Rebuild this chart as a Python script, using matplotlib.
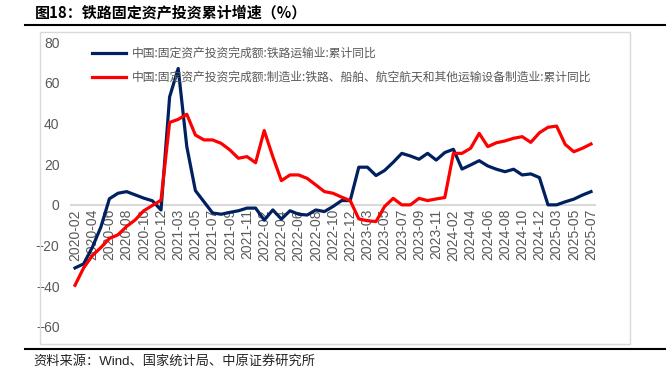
import numpy as np
import matplotlib
matplotlib.use('Agg')
import matplotlib.pyplot as plt
from matplotlib.lines import Line2D
from matplotlib.patches import Rectangle

plt.rcParams['font.family'] = ['Liberation Sans', 'Noto Sans CJK SC', 'DejaVu Sans']

# months (January is not published, so each year starts at -02)
months = []
for year in range(2020, 2026):
    last = 7 if year == 2025 else 12
    for m in range(2, last + 1):
        months.append(f'{year}-{m:02d}')

rail = [-31, -29, -21, -11, 3, 5.7, 6.5, 4.9, 3.3, 2, -2.5,
        53, 67, 28.6, 7, 1.5, -4, -4.6, -3.7, -2.9, -1.6,
        -1.6, -7.5, -2.5, -7, -2.9, -4.6, -5, -2.5, -3.3, -0.8,
        2.1, 2.1, 18.5, 18.5, 14.4, 16.9, 20.9, 25.3, 24, 22.4,
        25.3, 22, 25.7, 27.3, 17.6, 19.6, 21.7, 19.1, 17.5, 16.3,
        17.5, 14.7, 15.2, 13.4, 0, 0, 1.5, 2.8, 4.8, 6.5]

manuf = [-39.5, -31, -25, -21, -16.5, -14.7, -10.6, -7.4, -2.9, -0.3, 2.3,
         40.5, 42, 44.5, 34.3, 31.9, 31.9, 30.2, 27, 22.9, 23.7,
         20.7, 36.5, 23.7, 11.9, 14.7, 14.7, 13, 9.8, 6.5, 5.7,
         3.8, 2.1, -6.9, -7.8, -8.2, -0.8, 3.2, 0, 0, 3.2,
         2.1, 2.9, 3.6, 25.3, 25.3, 27.8, 35.1, 28.6, 30.5, 31.4,
         32.7, 33.5, 30.7, 35.4, 38.1, 38.7, 29.7, 26.1, 27.8, 29.9]

labels = ['中国:固定资产投资完成额:铁路运输业:累计同比',
          '中国:固定资产投资完成额:制造业:铁路、船舶、航空航天和其他运输设备制造业:累计同比']

W, H = 666, 374
fig = plt.figure(figsize=(W / 100, H / 100), dpi=100)

# chart frame and rules
fig.add_artist(Rectangle((40 / W, 1 - 344 / H), 590 / W, 312 / H, transform=fig.transFigure,
                         fill=False, edgecolor='#d9d9d9', linewidth=1))
fig.add_artist(Line2D([25 / W, 1], [1 - 25 / H, 1 - 25 / H], transform=fig.transFigure,
                      color='black', linewidth=1.5))
fig.add_artist(Line2D([25 / W, 1], [1 - 349 / H, 1 - 349 / H], transform=fig.transFigure,
                      color='black', linewidth=1.5))

fig.text(35 / W, 1 - 12 / H, '图18：铁路固定资产投资累计增速（%）', fontsize=10.8,
         fontweight='bold', va='center', ha='left', family=['Noto Sans CJK SC', 'DejaVu Sans'])
fig.text(33 / W, 1 - 361 / H, '资料来源：Wind、国家统计局、中原证券研究所', fontsize=9.5,
         va='center', ha='left', color='#222222')

ax = fig.add_axes([70.7 / W, 1 - 327 / H, 524.6 / W, 285 / H])
x = np.arange(len(months))
ax.plot(x, rail, color='#002060', linewidth=2.3, label=labels[0])
ax.plot(x, manuf, color='#ff0000', linewidth=2.3, label=labels[1])

ax.set_xlim(-0.5, len(months) - 0.5)
ax.set_ylim(-60, 80)
ax.set_yticks(np.arange(-60, 81, 20))
ax.set_xticks(x[::2])
ax.set_xticklabels(months[::2])

for side in ['top', 'right', 'left']:
    ax.spines[side].set_visible(False)
ax.spines['bottom'].set_position(('data', 0))
ax.spines['bottom'].set_color('#d9d9d9')
ax.spines['bottom'].set_linewidth(1.5)
ax.spines['bottom'].set_zorder(0)
ax.tick_params(axis='both', length=0, labelsize=10, colors='#595959')
ax.tick_params(axis='y', pad=8)
ax.tick_params(axis='x', pad=3, labelrotation=90)
ax.patch.set_visible(False)

leg = ax.legend(loc='upper left', bbox_to_anchor=(0.02, 1.02), frameon=False,
                handlelength=2.9, labelspacing=0.95, handletextpad=0.5,
                prop={'family': ['Noto Sans CJK SC', 'DejaVu Sans'], 'size': 8.5})
for t in leg.get_texts():
    t.set_color('#595959')

fig.savefig('out.png', dpi=100)
